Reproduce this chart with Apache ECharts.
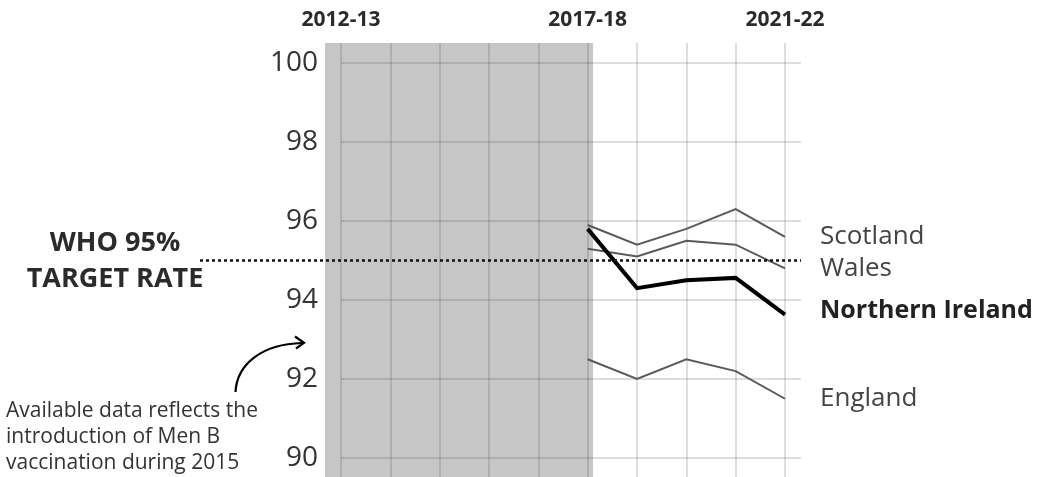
<!DOCTYPE html>
<html>
<head>
<meta charset="utf-8">
<script src="https://cdn.jsdelivr.net/npm/echarts@6/dist/echarts.min.js"></script>
<style>
  html, body { margin: 0; padding: 0; background: #fff; }
  #chart { width: 1054px; height: 477px; }
</style>
</head>
<body>
<div id="chart"></div>
<script>
// coverage by nation (%)
const years = ['2012-13', '2013-14', '2014-15', '2015-16', '2016-17',
  '2017-18', '2018-19', '2019-20', '2020-21', '2021-22']
const shownYears = ['2012-13', '2017-18', '2021-22']
const scotland = [null, null, null, null, null, 95.9, 95.4, 95.8, 96.3, 95.6]
const wales = [null, null, null, null, null, 95.3, 95.1, 95.5, 95.4, 94.8]
const northernIreland = [null, null, null, null, null, 95.8, 94.3, 94.5, 94.56, 93.63]
const england = [null, null, null, null, null, 92.5, 92.0, 92.5, 92.2, 91.5]
const targetRate = 95
const yTicks = [90, 92, 94, 96, 98, 100]

const FONT = '"Open Sans", "Noto Sans", sans-serif'
const gridLine = 'rgba(60,60,60,0.22)'

const chart = echarts.init(document.getElementById('chart'))

function nationSeries(name, data, opts) {
  return {
    name: name,
    type: 'line',
    xAxisIndex: 3,
    yAxisIndex: 3,
    data: data,
    symbol: 'none',
    silent: true,
    lineStyle: { color: opts.color, width: opts.width, join: 'miter' },
    z: opts.z || 3,
    endLabel: {
      show: true,
      formatter: '{a}',
      distance: 35,
      offset: opts.offset || [0, 0],
      fontFamily: FONT,
      fontSize: opts.bold ? 25 : 26,
      fontWeight: opts.bold ? 'bold' : 'normal',
      color: opts.labelColor
    }
  }
}

const option = {
  animation: false,
  backgroundColor: '#fff',
  grid: [
    // shaded period before data available
    { left: 325, right: 461, top: 43, bottom: 0, show: true, backgroundColor: '#c6c6c6', borderWidth: 0 },
    // vertical year lines + top labels
    { left: 341, right: 269, top: 43, bottom: 0 },
    // horizontal value lines + y labels
    { left: 341, right: 253, top: 63, bottom: 19 },
    // data lines
    { left: 341, right: 269, top: 63, bottom: 19 },
    // WHO target line
    { left: 200, right: 253, top: 63, bottom: 19 }
  ],
  xAxis: [
    { gridIndex: 0, type: 'category', data: years, show: false },
    {
      gridIndex: 1,
      type: 'category',
      data: years,
      boundaryGap: false,
      position: 'top',
      axisLine: { show: false },
      axisTick: { show: false },
      splitLine: { show: true, lineStyle: { color: gridLine, width: 1.5 } },
      axisLabel: {
        interval: 0,
        margin: 12,
        formatter: v => shownYears.includes(v) ? v : '',
        fontFamily: FONT,
        fontSize: 21,
        fontWeight: 'bold',
        color: '#2b2b2b'
      }
    },
    { gridIndex: 2, type: 'category', data: years, show: false },
    { gridIndex: 3, type: 'category', data: years, boundaryGap: false, show: false },
    { gridIndex: 4, type: 'category', data: years, boundaryGap: false, show: false }
  ],
  yAxis: [
    { gridIndex: 0, type: 'value', show: false },
    { gridIndex: 1, type: 'value', show: false },
    {
      gridIndex: 2,
      type: 'value',
      min: yTicks[0],
      max: yTicks[yTicks.length - 1],
      interval: 2,
      axisLine: { show: false },
      axisTick: { show: false },
      splitLine: { show: true, lineStyle: { color: gridLine, width: 1.5 } },
      axisLabel: {
        margin: 23,
        fontFamily: FONT,
        fontSize: 28,
        color: '#333'
      }
    },
    { gridIndex: 3, type: 'value', min: 90, max: 100, show: false },
    { gridIndex: 4, type: 'value', min: 90, max: 100, show: false }
  ],
  series: [
    {
      name: 'target',
      type: 'line',
      xAxisIndex: 4,
      yAxisIndex: 4,
      data: [],
      markLine: {
        silent: true,
        symbol: 'none',
        label: { show: false },
        lineStyle: { color: '#111', width: 2.5, type: [3, 3] },
        data: [{ yAxis: targetRate }]
      }
    },
    nationSeries('Scotland', scotland, { color: '#5a5a5a', width: 2, labelColor: '#444' }),
    nationSeries('Wales', wales, { color: '#5a5a5a', width: 2, labelColor: '#444' }),
    nationSeries('England', england, { color: '#5a5a5a', width: 2, labelColor: '#444' }),
    nationSeries('Northern Ireland', northernIreland, {
      color: '#000', width: 4, labelColor: '#222', bold: true, offset: [0, -4], z: 4
    })
  ],
  graphic: [
    {
      type: 'text',
      style: {
        x: 115, y: 261,
        text: 'WHO 95%\nTARGET RATE',
        fontFamily: FONT,
        fontSize: 27,
        fontWeight: 'bold',
        fill: '#2b2b2b',
        align: 'center',
        verticalAlign: 'middle',
        lineHeight: 36
      }
    },
    {
      type: 'text',
      style: {
        x: 6, y: 437,
        text: 'Available data reflects the\nintroduction of Men B\nvaccination during 2015',
        fontFamily: FONT,
        fontSize: 21,
        fill: '#333',
        verticalAlign: 'middle',
        lineHeight: 26
      }
    },
    {
      type: 'bezierCurve',
      shape: { x1: 235.5, y1: 392, cpx1: 237, cpy1: 364, cpx2: 262, cpy2: 344, x2: 302, y2: 343 },
      style: { stroke: '#000', lineWidth: 2.2, fill: null }
    },
    {
      type: 'polyline',
      shape: { points: [[295, 336.5], [304, 342.8], [296, 348.5]] },
      style: { stroke: '#000', lineWidth: 2.2, fill: null }
    }
  ]
}

chart.setOption(option)
</script>
</body>
</html>
